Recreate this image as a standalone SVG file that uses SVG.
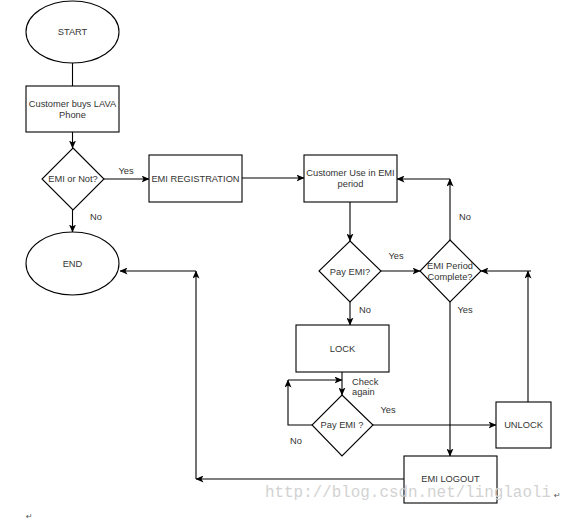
<svg xmlns="http://www.w3.org/2000/svg" width="576" height="520" viewBox="0 0 576 520">
<defs>
<marker id="arr" markerWidth="8" markerHeight="7" refX="7.5" refY="3.5" orient="auto" markerUnits="userSpaceOnUse">
<path d="M0,0 L8,3.5 L0,7 L2,3.5 z" fill="#000"/>
</marker>
</defs>
<style>
.shape{fill:#fff;stroke:#000;stroke-width:1.1}
.edge{fill:none;stroke:#000;stroke-width:1.1}
.t{font-family:"Liberation Sans",Arial,sans-serif;font-size:9.3px;fill:#333;text-anchor:middle;dominant-baseline:central}
.l{font-family:"Liberation Sans",Arial,sans-serif;font-size:9.3px;fill:#333;dominant-baseline:central}
</style>
<rect width="576" height="520" fill="#fff"/>
<g id="connectors">
<line class="edge" x1="72.5" y1="63" x2="72.5" y2="86"/>
<line class="edge" x1="72.5" y1="132" x2="72.5" y2="148" marker-end="url(#arr)"/>
<line class="edge" x1="104" y1="179" x2="149" y2="179" marker-end="url(#arr)"/>
<line class="edge" x1="72.5" y1="210" x2="72.5" y2="232" marker-end="url(#arr)"/>
<line class="edge" x1="242" y1="178" x2="304" y2="178" marker-end="url(#arr)"/>
<line class="edge" x1="350" y1="202" x2="350" y2="241" marker-end="url(#arr)"/>
<line class="edge" x1="381" y1="271" x2="420" y2="271" marker-end="url(#arr)"/>
<line class="edge" x1="450" y1="240" x2="450" y2="179" marker-end="url(#arr)"/>
<line class="edge" x1="450" y1="179" x2="397" y2="179" marker-end="url(#arr)"/>
<line class="edge" x1="350" y1="302" x2="350" y2="325" marker-end="url(#arr)"/>
<line class="edge" x1="450" y1="302" x2="450" y2="456" marker-end="url(#arr)"/>
<line class="edge" x1="342" y1="372" x2="342" y2="395" marker-end="url(#arr)"/>
<polyline class="edge" points="312,425 288,425 288,380" marker-end="url(#arr)"/>
<line class="edge" x1="288" y1="380" x2="342" y2="380" marker-end="url(#arr)"/>
<line class="edge" x1="373" y1="425" x2="496" y2="425" marker-end="url(#arr)"/>
<line class="edge" x1="528" y1="402" x2="528" y2="271" marker-end="url(#arr)"/>
<line class="edge" x1="531" y1="271" x2="481" y2="271" marker-end="url(#arr)"/>
<line class="edge" x1="404" y1="479" x2="196" y2="479" marker-end="url(#arr)"/>
<line class="edge" x1="196" y1="479" x2="196" y2="271" marker-end="url(#arr)"/>
<line class="edge" x1="196" y1="271" x2="120" y2="271" marker-end="url(#arr)"/>
<text class="t" x="126" y="171">Yes</text>
<text class="t" x="96" y="217">No</text>
<text class="t" x="396" y="256">Yes</text>
<text class="t" x="465" y="217">No</text>
<text class="t" x="465" y="310">Yes</text>
<text class="t" x="365" y="310">No</text>
<text class="l" x="352" y="382">Check</text>
<text class="l" x="352" y="392">again</text>
<text class="t" x="296" y="441">No</text>
<text class="t" x="388" y="410">Yes</text>
</g>
<g id="start">
<ellipse class="shape" cx="72.5" cy="32" rx="46.5" ry="31"/>
<text class="t" x="72.5" y="32">START</text>
</g>
<g id="buy">
<rect class="shape" x="26" y="86" width="93" height="46"/>
<text class="t" x="72.5" y="104">Customer buys LAVA</text>
<text class="t" x="72.5" y="115">Phone</text>
</g>
<g id="emiornot">
<polygon class="shape" points="73,148 104,179 73,210 42,179"/>
<text class="t" x="73" y="179">EMI or Not?</text>
</g>
<g id="end">
<ellipse class="shape" cx="72.5" cy="263.5" rx="46.5" ry="31.5"/>
<text class="t" x="72.5" y="264">END</text>
</g>
<g id="registration">
<rect class="shape" x="149" y="155" width="93" height="47"/>
<text class="t" x="195.5" y="179">EMI REGISTRATION</text>
</g>
<g id="use">
<rect class="shape" x="304" y="155" width="93" height="47"/>
<text class="t" x="350.5" y="173">Customer Use in EMI</text>
<text class="t" x="350.5" y="184">period</text>
</g>
<g id="payemi1">
<polygon class="shape" points="350,241 381,271 350,302 319,271"/>
<text class="t" x="350" y="272">Pay EMI?</text>
</g>
<g id="period">
<polygon class="shape" points="450,240 481,271 450,302 420,271"/>
<text class="t" x="450" y="266">EMI Period</text>
<text class="t" x="450" y="277">Complete?</text>
</g>
<g id="lock">
<rect class="shape" x="296" y="325" width="93" height="47"/>
<text class="t" x="342.5" y="349">LOCK</text>
</g>
<g id="payemi2">
<polygon class="shape" points="342,395 373,425 342,456 312,425"/>
<text class="t" x="342" y="425">Pay EMI ?</text>
</g>
<g id="unlock">
<rect class="shape" x="496" y="402" width="55" height="46"/>
<text class="t" x="523.5" y="425">UNLOCK</text>
</g>
<g id="logout">
<rect class="shape" x="404" y="456" width="93" height="47"/>
<text class="t" x="450.5" y="479">EMI LOGOUT</text>
</g>
<text x="265" y="497" font-family="Liberation Mono,monospace" font-size="16" fill="#d2d2d2" textLength="286" lengthAdjust="spacingAndGlyphs">http://blog.csdn.net/linglaoli</text>
<text x="554" y="498" font-family="DejaVu Sans,sans-serif" font-size="8" fill="#555">↵</text>
<text x="26" y="519" font-family="DejaVu Sans,sans-serif" font-size="8" fill="#555">↵</text>
</svg>
